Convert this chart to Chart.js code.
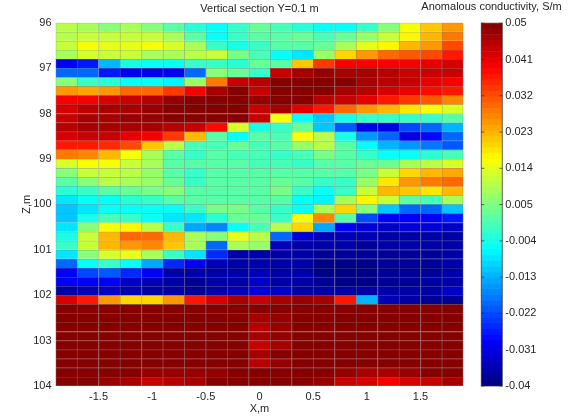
<!DOCTYPE html>
<html>
<head>
<meta charset="utf-8">
<title>Vertical section</title>
<script src="https://cdn.jsdelivr.net/npm/chart.js@4"></script>
<style>
    html, body { margin: 0; padding: 0; background: #fff; }
    #wrap { position: relative; width: 568px; height: 417px; overflow: hidden; }
    canvas { position: absolute; top: 0; }
    #sectionChart { left: 0; }
    #barChart { left: 415px; }
</style>
</head>
<body>
<div id="wrap">
    <canvas id="sectionChart" width="568" height="417"></canvas>
    <canvas id="barChart" width="153" height="417"></canvas>
</div>
<script>
// cell centres along X, m
const xCenters = [-1.8, -1.6, -1.4, -1.2, -1, -0.8, -0.6, -0.4, -0.2, 0, 0.2, 0.4, 0.6, 0.8, 1, 1.2, 1.4, 1.6, 1.8];
// cell edges along Z, m
const zEdges = [96, 96.2, 96.4, 96.6, 96.8, 97, 97.2, 97.4, 97.6, 97.8, 98, 98.2, 98.4, 98.6, 98.8, 99, 99.2, 99.4, 99.6, 99.8,
    100, 100.2, 100.4, 100.6, 100.8, 101, 101.2, 101.4, 101.6, 101.8, 102, 102.2, 102.4, 102.6, 102.8, 103, 103.2, 103.4, 103.6, 103.8, 104];

const xTicks = [-1.5, -1, -0.5, 0, 0.5, 1, 1.5];
const zTicks = [96, 97, 98, 99, 100, 101, 102, 103, 104];
const colorTicks = [0.05, 0.041, 0.032, 0.023, 0.014, 0.005, -0.004, -0.013, -0.022, -0.031, -0.04];

// anomalous conductivity, S/m, one row per Z cell
const conductivity = [
    [.010, .008, .006, .009, .006, .001, -.003, -.006, -.002, .003, .000, -.003, -.006, -.006, -.002, .006, .015, .021, .025],
    [.010, .011, .012, .012, .012, .009, .001, -.006, -.002, .001, .002, .003, .000, .003, .007, .012, .017, .022, .028],
    [.012, .016, .014, .014, .015, .013, .008, -.001, -.004, -.001, .001, .002, .003, .009, .014, .017, .022, .026, .032],
    [.009, .013, .012, .011, .008, .008, .010, .011, .004, .000, -.005, -.009, .007, .020, .026, .030, .031, .033, .036],
    [-.029, -.027, -.012, -.004, -.005, -.005, -.002, -.001, -.003, .003, .001, .021, .034, .039, .040, .040, .040, .041, .042],
    [-.020, -.020, -.026, -.030, -.031, -.030, -.019, .005, .003, -.001, .043, .047, .048, .047, .046, .045, .044, .043, .043],
    [.005, -.001, -.003, -.005, -.006, -.007, .007, .028, .043, .045, .049, .050, .050, .049, .046, .045, .043, .041, .040],
    [.025, .024, .026, .029, .030, .034, .040, .046, .049, .044, .049, .050, .050, .047, .045, .042, .041, .038, .036],
    [.039, .039, .042, .044, .045, .048, .049, .050, .050, .048, .050, .049, .045, .043, .041, .036, .034, .031, .027],
    [.042, .045, .046, .047, .048, .050, .050, .050, .050, .044, .046, .041, .036, .030, .026, .022, .018, .016, .013],
    [.044, .046, .046, .048, .048, .050, .050, .050, .050, .044, .016, -.006, -.011, -.004, -.001, -.001, -.001, -.001, .001],
    [.045, .046, .047, .046, .046, .045, .043, .038, .013, -.004, -.001, .003, -.011, -.021, -.031, -.031, -.023, -.019, -.013],
    [.042, .043, .043, .041, .039, .034, .023, .001, -.006, .002, .000, .016, .010, -.004, -.015, -.020, -.031, -.028, -.020],
    [.037, .037, .035, .032, .021, .010, .000, .000, .003, .000, .002, .007, .010, .002, -.006, -.012, -.016, -.018, -.021],
    [.028, .027, .022, .016, .009, .001, -.001, .001, .000, .000, -.001, .000, .004, .002, -.002, -.005, -.005, -.003, .000],
    [.013, .015, .016, .012, .008, .002, .001, .001, .001, .000, .000, -.002, .001, .001, .003, .003, .008, .010, .013],
    [.006, .012, .012, .010, .007, .002, -.001, .001, .001, .002, .002, .002, .002, .001, .004, .012, .020, .022, .024],
    [.002, .005, .010, .009, .007, .003, -.001, .001, .001, .001, .003, .002, -.001, -.001, .007, .018, .026, .028, .030],
    [-.003, -.001, .002, .003, .004, .005, .002, .001, .001, .001, .004, -.001, -.006, -.001, .012, .022, .021, .018, .022],
    [-.009, -.006, -.006, -.003, -.001, .002, .002, .002, .001, .001, .002, -.006, -.007, .008, .017, .012, .001, .000, .009],
    [-.011, -.009, -.005, -.006, -.005, -.006, -.002, .004, .004, .002, -.001, -.006, .008, .020, .006, -.011, -.019, -.020, -.011],
    [-.011, -.004, .000, -.002, -.005, -.009, -.009, -.003, .003, .003, -.001, .016, .027, .002, -.023, -.029, -.029, -.029, -.026],
    [-.008, .005, .016, .017, .010, -.002, -.014, -.017, -.006, .000, .010, .020, -.014, -.029, -.032, -.033, -.032, -.032, -.033],
    [-.004, .011, .023, .029, .029, .022, .009, .006, .014, .010, -.019, -.032, -.035, -.035, -.035, -.036, -.036, -.036, -.037],
    [-.001, .012, .022, .026, .027, .021, .008, -.019, .008, .007, -.035, -.036, -.037, -.037, -.038, -.037, -.037, -.037, -.037],
    [-.008, .005, .013, .014, .009, -.001, -.009, -.025, -.036, -.036, -.037, -.037, -.038, -.038, -.038, -.038, -.038, -.038, -.037],
    [-.020, -.006, -.002, -.005, -.014, -.025, -.030, -.035, -.036, -.036, -.037, -.037, -.039, -.039, -.039, -.038, -.038, -.038, -.037],
    [-.029, -.023, -.021, -.025, -.030, -.036, -.036, -.036, -.036, -.035, -.037, -.037, -.039, -.039, -.039, -.038, -.038, -.038, -.037],
    [-.029, -.029, -.030, -.033, -.035, -.037, -.038, -.037, -.036, -.034, -.036, -.037, -.038, -.039, -.039, -.038, -.038, -.037, -.036],
    [-.037, -.035, -.034, -.035, -.036, -.037, -.038, -.036, -.035, -.032, -.034, -.036, -.036, -.037, -.037, -.037, -.037, -.036, -.034],
    [.042, .036, .026, .020, .020, .026, .036, .042, .046, .044, .046, .048, .047, .036, -.012, -.035, -.036, -.038, -.038],
    [.049, .049, .049, .049, .049, .049, .049, .049, .049, .049, .049, .049, .049, .049, .049, .049, .049, .049, .049],
    [.049, .049, .049, .049, .049, .049, .049, .049, .049, .047, .048, .049, .049, .049, .049, .049, .049, .049, .049],
    [.049, .049, .049, .049, .049, .049, .049, .049, .049, .045, .048, .049, .049, .049, .049, .049, .049, .049, .049],
    [.049, .049, .049, .049, .049, .049, .049, .049, .049, .046, .048, .049, .049, .049, .049, .049, .049, .049, .049],
    [.049, .049, .049, .049, .049, .049, .049, .049, .049, .043, .047, .049, .049, .049, .049, .049, .049, .049, .049],
    [.049, .049, .049, .049, .049, .049, .049, .049, .049, .047, .049, .049, .049, .049, .049, .049, .049, .049, .049],
    [.049, .049, .049, .049, .049, .049, .049, .049, .049, .045, .048, .049, .049, .049, .049, .049, .049, .049, .049],
    [.049, .049, .049, .049, .048, .048, .048, .048, .049, .049, .049, .049, .049, .048, .047, .046, .048, .049, .049],
    [.049, .049, .048, .046, .044, .045, .047, .049, .049, .049, .049, .050, .048, .044, .042, .040, .042, .044, .047]
];

const colorMin = -0.04;
const colorMax = 0.05;
const colorLevels = 64;
const textColor = '#262626';
const tickFont = { family: '"Liberation Sans", Arial, sans-serif', size: 11 };

function clamp01(v) {
    return Math.max(0, Math.min(1, v));
}

// MATLAB jet, 64 steps
function jetRgb(value) {
    const step = Math.min(colorLevels - 1, Math.floor((value - colorMin) / (colorMax - colorMin) * colorLevels));
    const t = (step + 0.5) / colorLevels;
    return [
        clamp01(1.5 - Math.abs(4 * t - 3)),
        clamp01(1.5 - Math.abs(4 * t - 2)),
        clamp01(1.5 - Math.abs(4 * t - 1))
    ].map(c => Math.round(c * 255));
}

function jetColor(value) {
    const c = jetRgb(value);
    return `rgb(${c[0]},${c[1]},${c[2]})`;
}

// the gray cell edges come out blended with the cell colour
function edgeColor(value) {
    const c = jetRgb(value).map(v => Math.round(v * 0.5 + 128 * 0.5));
    return `rgb(${c[0]},${c[1]},${c[2]})`;
}

const sectionDatasets = conductivity.map((row, r) => ({
    data: row.map((v, i) => ({ x: xCenters[i], y: [zEdges[r], zEdges[r + 1]] })),
    backgroundColor: row.map(jetColor),
    borderColor: row.map(edgeColor),
    borderSkipped: false,
    borderWidth: ctx => ({
        top: 1,
        left: 1,
        right: ctx.dataIndex === xCenters.length - 1 ? 1 : 0,
        bottom: r === conductivity.length - 1 ? 1 : 0
    }),
    grouped: false,
    barPercentage: 1,
    categoryPercentage: 1
}));

new Chart(document.getElementById('sectionChart'), {
    type: 'bar',
    data: { datasets: sectionDatasets },
    options: {
        responsive: false,
        animation: false,
        layout: { padding: { left: 0, right: 104.6, top: 0, bottom: 0 } },
        plugins: {
            legend: { display: false },
            tooltip: { enabled: false },
            title: {
                display: true,
                text: 'Vertical section Y=0.1 m',
                color: textColor,
                font: { ...tickFont, weight: 'normal' },
                fullSize: false,
                padding: { top: 2, bottom: 7.5 }
            }
        },
        scales: {
            x: {
                type: 'linear',
                offset: false,
                min: -1.9,
                max: 1.9,
                afterBuildTicks: axis => { axis.ticks = xTicks.map(v => ({ value: v })); },
                afterFit: axis => { axis.height = 31; },
                grid: { display: false, drawTicks: false },
                border: { display: false },
                ticks: { color: textColor, font: tickFont, padding: 4, maxRotation: 0, autoSkip: false, callback: v => String(v) },
                title: { display: true, text: 'X,m', color: textColor, font: tickFont, padding: { top: 0, bottom: 1 } }
            },
            y: {
                type: 'linear',
                reverse: true,
                min: 96,
                max: 104,
                afterBuildTicks: axis => { axis.ticks = zTicks.map(v => ({ value: v })); },
                afterFit: axis => { axis.width = 55.6; },
                grid: { display: false, drawTicks: false },
                border: { display: false },
                ticks: { color: textColor, font: tickFont, padding: 4, autoSkip: false, callback: v => String(v) },
                title: { display: true, text: 'Z,m', color: textColor, font: tickFont, padding: { top: 20, bottom: 0 } }
            }
        }
    }
});

// colour bar: one floating bar per colormap step
const barSteps = [];
for (let i = 0; i < colorLevels; i++) {
    barSteps.push(colorMin + (colorMax - colorMin) * i / colorLevels);
}

// short inward ticks on both sides of the colour bar
const innerTicks = {
    id: 'innerTicks',
    afterDraw(chart) {
        const { ctx, chartArea, scales } = chart;
        ctx.save();
        ctx.strokeStyle = 'rgba(40,40,40,0.7)';
        ctx.lineWidth = 1;
        ctx.strokeRect(chartArea.left, chartArea.top, chartArea.right - chartArea.left, chartArea.bottom - chartArea.top);
        colorTicks.forEach(v => {
            const y = scales.y.getPixelForValue(v);
            ctx.beginPath();
            ctx.moveTo(chartArea.left, y);
            ctx.lineTo(chartArea.left + 3, y);
            ctx.moveTo(chartArea.right - 3, y);
            ctx.lineTo(chartArea.right, y);
            ctx.stroke();
        });
        ctx.restore();
    }
};

new Chart(document.getElementById('barChart'), {
    type: 'bar',
    data: {
        labels: [''],
        datasets: barSteps.map(lo => ({
            data: [[lo, lo + (colorMax - colorMin) / colorLevels]],
            backgroundColor: jetColor(lo + 0.0001),
            grouped: false,
            barPercentage: 1,
            categoryPercentage: 1
        }))
    },
    options: {
        responsive: false,
        animation: false,
        layout: { padding: { left: 0, right: 0, top: 0, bottom: 31 } },
        plugins: {
            legend: { display: false },
            tooltip: { enabled: false },
            title: {
                display: true,
                text: 'Anomalous conductivity, S/m',
                color: textColor,
                font: { ...tickFont, weight: 'normal' },
                padding: { top: 0, bottom: 10 }
            }
        },
        scales: {
            x: {
                display: false
            },
            y: {
                position: 'right',
                min: colorMin,
                max: colorMax,
                afterBuildTicks: axis => { axis.ticks = colorTicks.map(v => ({ value: v })); },
                afterFit: axis => { axis.width = 65.7; },
                grid: { display: false, drawTicks: false },
                border: { display: false },
                ticks: { color: textColor, font: tickFont, padding: 3, autoSkip: false, callback: v => String(v) }
            },
            // empty axis, only holds the space left of the bar so the title keeps the full canvas width
            spacer: {
                type: 'linear',
                position: 'left',
                afterFit: axis => { axis.width = 66.3; },
                grid: { display: false, drawTicks: false },
                border: { display: false },
                ticks: { display: false }
            }
        }
    },
    plugins: [innerTicks]
});
</script>
</body>
</html>
